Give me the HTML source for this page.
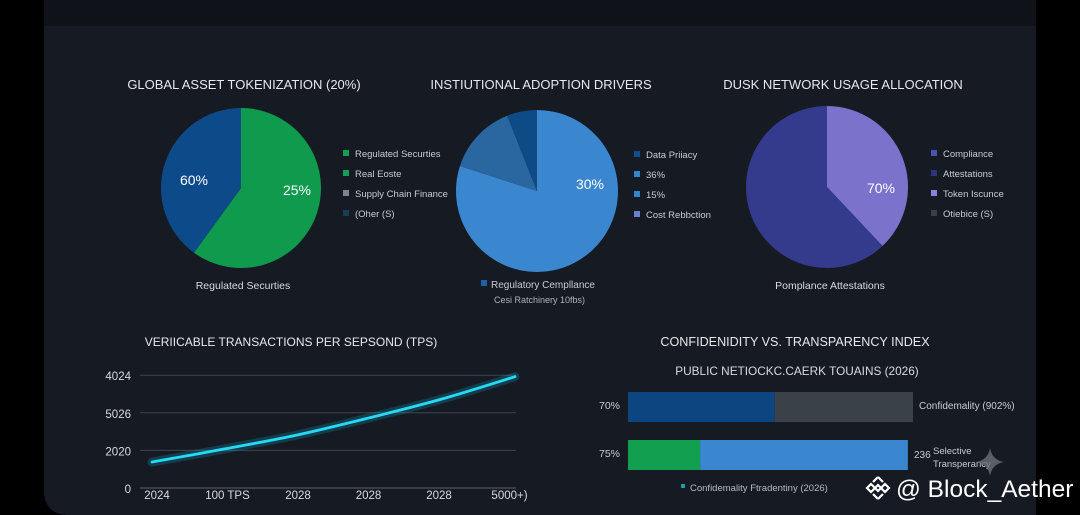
<!DOCTYPE html>
<html><head><meta charset="utf-8">
<style>
html,body{margin:0;padding:0;background:#000;width:1080px;height:515px;overflow:hidden;font-family:"Liberation Sans",sans-serif}
svg{display:block}
</style></head>
<body>
<svg id="root" width="1080" height="515" xmlns="http://www.w3.org/2000/svg">
  <rect x="0" y="0" width="1080" height="515" fill="#000"/>
  <path d="M44 0 H1036 V515 H70 Q44 515 44 490 Z" fill="#151a23"/>
  <rect x="44" y="0" width="992" height="26" fill="#0f1219"/>
  <g id="pies"></g>
  <g id="line"></g>
  <g id="bars"></g>
  <g>
    <path d="M990 448 Q992 460 1004 462 Q992 464 990 476 Q988 464 976 462 Q988 460 990 448Z" fill="#6b6f76" opacity="0.8"/>
    <g transform="translate(878,488)" fill="none" stroke="#fff" stroke-width="2.2">
      <path d="M0 -11 L5 -6 M0 -11 L-5 -6 M-11 0 L-7 -4 L-3 0 L-7 4 Z M11 0 L7 -4 L3 0 L7 4 Z M0 11 L5 6 M0 11 L-5 6 M0 -3 L3 0 L0 3 L-3 0 Z"/>
    </g>
    <text x="896" y="497" font-size="24.5" fill="#fff">@ Block_Aether</text>
  </g>
</svg>
<script>
const NS='http://www.w3.org/2000/svg';
function mk(tag,attrs,parent,txt){const e=document.createElementNS(NS,tag);for(const k in attrs)e.setAttribute(k,attrs[k]);if(txt!==undefined)e.textContent=txt;parent.appendChild(e);return e;}

// ---------- PIE DATA ----------
const pie1Values=[60,40];
const pie1Colors=['#0f9a4e','#0c4a8a'];
const pie2Values=[80,14,6];
const pie2Colors=['#3a87d0','#2a66a0','#0d4a86'];
const pie3Values=[38,62];
const pie3Colors=['#7a72cb','#343a8c'];

const pies=document.getElementById('pies');
function slicePath(cx,cy,r,a0,a1){
  const p=a=>[cx+r*Math.sin(a*Math.PI/180),cy-r*Math.cos(a*Math.PI/180)];
  const s=p(a0),e=p(a1);const large=(a1-a0)>180?1:0;
  return `M${cx} ${cy} L${s[0]} ${s[1]} A${r} ${r} 0 ${large} 1 ${e[0]} ${e[1]} Z`;
}
function drawPie(cx,cy,r,vals,cols,name){
  const g=mk('g',{},pies);
  
  
  const tot=vals.reduce((a,b)=>a+b,0);let a=0;
  vals.forEach((v,i)=>{const a1=a+v/tot*360;
    const s=mk('path',{d:slicePath(cx,cy,r,a,a1),fill:cols[i]},g);
    
    
    a=a1;});
}
drawPie(241,188,80,pie1Values,pie1Colors,'pie-asset-tokenization');
drawPie(537,191,81,pie2Values,pie2Colors,'pie-adoption-drivers');
drawPie(827,187,81,pie3Values,pie3Colors,'pie-network-usage');

function txt(x,y,s,size,fill,anchor,name,inter){const t=mk('text',{x:x,y:y,'font-size':size,fill:fill,'text-anchor':anchor||'start'},pies,s);
  
  return t;}
txt(244,89,'GLOBAL ASSET TOKENIZATION (20%)',13,'#e6e8ec','middle','pie1-title');
txt(541,89,'INSTIUTIONAL ADOPTION DRIVERS',13,'#e6e8ec','middle','pie2-title');
txt(843,89,'DUSK NETWORK USAGE ALLOCATION',13,'#e6e8ec','middle','pie3-title');
txt(194,185,'60%',14,'#fff','middle','pie1-label-60');
txt(297,195,'25%',14,'#fff','middle','pie1-label-25');
txt(590,189,'30%',14,'#fff','middle','pie2-label-30');
txt(881,193,'70%',14,'#fff','middle','pie3-label-70');
txt(243,289,'Regulated Securties',10.5,'#d8dbe0','middle','pie1-caption');
txt(830,289,'Pomplance Attestations',10.5,'#d8dbe0','middle','pie3-caption');
txt(491,288,'Regulatory Cempllance',10,'#c8ccd3','start','pie2-caption');
mk('rect',{x:481,y:280,width:6,height:6,fill:'#1f5fa8'},pies);
txt(494,303,'Cesi Ratchinery  10fbs)',9,'#b0b4bb','start','pie2-subcaption');

const leg1=['Regulated Securties','Real Eoste','Supply Chain Finance','(Oher (S)'];
const leg1c=['#12a055','#12a055','#7d848d','#1b3d55'];
const leg2=['Data Priiacy','36%','15%','Cost Rebbction'];
const leg2c=['#0e4f8f','#2f86cf','#2f86cf','#6a7fcf'];
const leg3=['Compliance','Attestations','Token Iscunce','Otiebice (S)'];
const leg3c=['#4a52b5','#2d3380','#8a80dd','#3a3e46'];
function legend(x,y0,labels,cols,name){labels.forEach((l,i)=>{const y=y0+i*20;
  const r=mk('rect',{x:x,y:y-6,width:6,height:6,fill:cols[i]},pies);
  
  
  txt(x+12,y+1,l,9.5,'#c8ccd3','start',name+'-entry-'+(i+1),true);});}
legend(343,156,leg1,leg1c,'pie1-legend');
legend(634,157,leg2,leg2c,'pie2-legend');
legend(931,156,leg3,leg3c,'pie3-legend');

// ---------- LINE DATA ----------
const lineXLabels=['2024','100 TPS','2028','2028','2028','5000+)'];
const lineYLabels=['0','2020','5026','4024'];
const lineValues=[0.69,1.04,1.41,1.87,2.37,2.96];
const lg=document.getElementById('line');
const lx=i=>152+i*72.6;
const ly=v=>488-v*37.6;
let t=mk('text',{x:291,y:346,'font-size':12,fill:'#e6e8ec','text-anchor':'middle'},lg,'VERIICABLE TRANSACTIONS PER SEPSOND (TPS)');


lineYLabels.forEach((l,i)=>{
  const gl=mk('line',{x1:140,x2:516,y1:ly(i),y2:ly(i),stroke:i===0?'#5b6068':'#3f444c','stroke-width':1},lg);
  
  
  const tl=mk('text',{x:131,y:ly(i)+5,'font-size':11.5,fill:'#d8dbe0','text-anchor':'end'},lg,l);
  
  
});
lineXLabels.forEach((l,i)=>{
  const tl=mk('text',{x:157+i*70.5,y:499,'font-size':11.5,fill:'#d8dbe0','text-anchor':'middle'},lg,l);
  
  
});
const pts=lineValues.map((v,i)=>[lx(i),ly(v)]);
let d=`M${pts[0][0]} ${pts[0][1]}`;
for(let i=0;i<pts.length-1;i++){
  const p0=pts[Math.max(0,i-1)],p1=pts[i],p2=pts[i+1],p3=pts[Math.min(pts.length-1,i+2)];
  const c1=[p1[0]+(p2[0]-p0[0])/6,p1[1]+(p2[1]-p0[1])/6];
  const c2=[p2[0]-(p3[0]-p1[0])/6,p2[1]-(p3[1]-p1[1])/6];
  d+=` C${c1[0]} ${c1[1]} ${c2[0]} ${c2[1]} ${p2[0]} ${p2[1]}`;
}
const glow=mk('path',{d:d,fill:'none',stroke:'#0aa8c8','stroke-width':9,opacity:0.25,'stroke-linecap':'round'},lg);


const ln=mk('path',{d:d,fill:'none',stroke:'#29d8f5','stroke-width':2.8,'stroke-linecap':'round'},lg);



// ---------- BAR DATA ----------
const barCategories=['70%','75%'];
const barSegA=[51.5,25.3];
const barSegB=[48.5,72.9];
const barColorsA=['#0d4581','#12a050'];
const barColorsB=['#3b4148','#3a86cf'];
const bg=document.getElementById('bars');
const bx=v=>628+v*2.85;
const rowY=[392,440];
function bt(x,y,s,size,fill,anchor,name){const e=mk('text',{x:x,y:y,'font-size':size,fill:fill,'text-anchor':anchor||'start'},bg,s);
  
  return e;}
bt(795,346,'CONFIDENIDITY VS. TRANSPARENCY INDEX',12.6,'#e6e8ec','middle','bar-chart-title');
bt(797,375,'PUBLIC NETIOCKC.CAERK TOUAINS (2026)',11.8,'#d8dbe0','middle','bar-chart-subtitle');
barCategories.forEach((c,i)=>{
  const y=rowY[i];
  const a=mk('rect',{x:bx(0),y:y,width:bx(barSegA[i])-bx(0),height:30,fill:barColorsA[i]},bg);
  
  
  const b=mk('rect',{x:bx(barSegA[i]),y:y,width:bx(barSegA[i]+barSegB[i])-bx(barSegA[i]),height:30,fill:barColorsB[i]},bg);
  
  
  bt(620,y+17,c,10.5,'#c8ccd3','end','bar-category-label');
});
bt(919,409,'Confidemality (902%)',10,'#c8ccd3','start','bar-1-value-label');
bt(914,458,'236',10,'#c8ccd3','start','bar-2-value-label');
bt(933,454,'Selective',9.5,'#c8ccd3','start','bar-2-label-line1');
bt(933,467,'Transperancy',9.5,'#c8ccd3','start','bar-2-label-line2');
const lm=mk('rect',{x:681,y:484,width:4,height:4,fill:'#1aa0a0'},bg);


bt(690,491,'Confidemality Ftradentiny (2026)',9.5,'#b8bcc3','start','bar-legend-entry');
</script>
</body></html>
